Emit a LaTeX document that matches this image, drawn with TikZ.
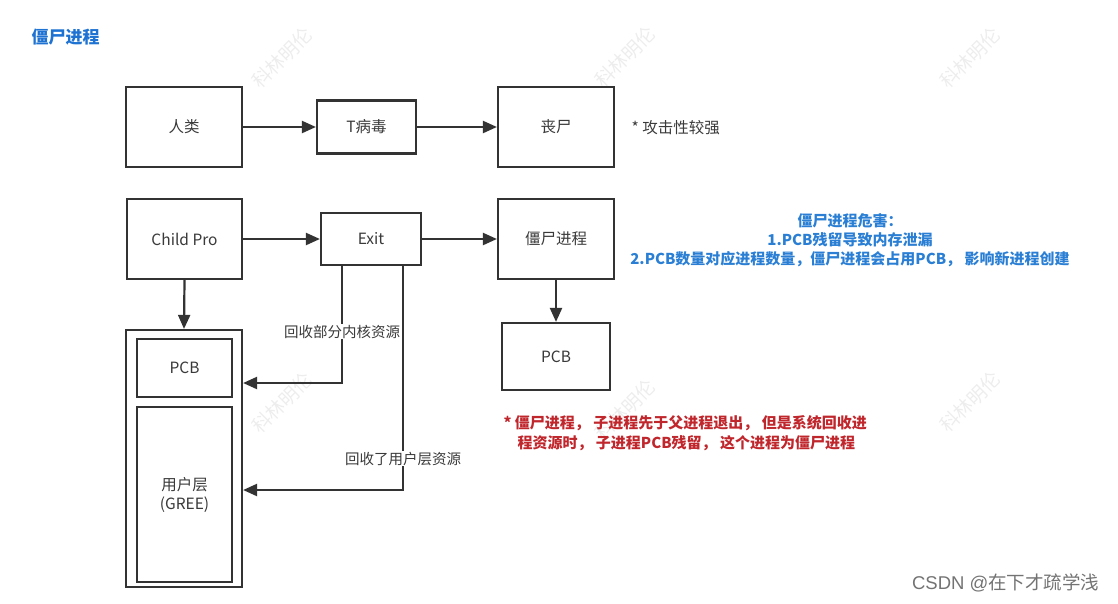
\documentclass[tikz,border=0pt]{standalone}
\usepackage{fontspec}
\setmainfont{Noto Sans CJK SC}
\newfontfamily\latinsans{Liberation Sans}
\usetikzlibrary{arrows.meta}
\definecolor{ln}{HTML}{333333}
\definecolor{tx}{HTML}{3A3A3A}
\definecolor{ttl}{HTML}{1E73D2}
\definecolor{bl}{HTML}{2A7FD4}
\definecolor{rd}{HTML}{C0272D}
\definecolor{wm}{HTML}{EDEDED}
\begin{document}
\begin{tikzpicture}[x=1pt,y=-1pt,
  box/.style={draw=ln,line width=2.2pt,fill=white,text=tx,font=\fontsize{15.5}{19}\selectfont,inner sep=0pt,align=center},
  arr/.style={draw=ln,line width=2.2pt,-{Triangle[length=14pt,width=12pt]}},
  lbl/.style={fill=white,text=tx,font=\fontsize{14.5}{17}\selectfont,inner sep=1pt},
  wmark/.style={text=wm,rotate=45,font=\fontsize{19}{22}\selectfont}]
\useasboundingbox (0,0) rectangle (1118,603);
% watermarks
\foreach \wx/\wy [count=\i] in {282/58,625/57,970/58,282/403,625/410,970/402}
  \node[wmark] (wm\i) at (\wx,\wy) {科林明伦};
% title
\node[text=ttl,font=\bfseries\fontsize{17}{20}\selectfont,anchor=west] (title) at (28,37) {僵尸进程};
% row 1
\node[box,minimum width=116pt,minimum height=80pt] (human) at (184,127) {人类};
\node[box,minimum width=99pt,minimum height=53pt] (tvirus) at (366.5,127) {T病毒};
\node[box,minimum width=116pt,minimum height=80pt] (zombie) at (556,127) {丧尸};
\node[text=tx,font=\fontsize{15.5}{18}\selectfont,anchor=west] (note1) at (628,128) {* 攻击性较强};
\draw[arr] (human) -- (tvirus);
\draw[arr] (tvirus) -- (zombie);
% row 2
\node[box,minimum width=115pt,minimum height=80pt] (child) at (184.5,239) {Child Pro};
\node[box,minimum width=100pt,minimum height=52pt] (exit) at (371,239) {Exit};
\node[box,minimum width=116pt,minimum height=80pt] (zproc) at (556,239) {僵尸进程};
\draw[arr] (child) -- (exit);
\draw[arr] (exit) -- (zproc);
% memory block
\node[box,minimum width=116pt,minimum height=257pt] (outer) at (184,458.5) {};
\node[box,minimum width=95pt,minimum height=58pt] (pcb1) at (184.5,368) {PCB};
\node[box,minimum width=95pt,minimum height=175pt] (user) at (184.5,494.5) {用户层\\(GREE)};
\draw[arr] (child.south) -- (outer.north);
% zombie pcb
\node[box,minimum width=108pt,minimum height=67pt] (pcb2) at (556,356.5) {PCB};
\draw[arr] (zproc.south) -- (pcb2.north);
% recycle connectors
\draw[arr] ([xshift=-29pt]exit.south) |- ([yshift=75.5pt]outer.east)
  node[lbl,pos=0.28] (l1) {回收部分内核资源};
\draw[arr] ([xshift=32pt]exit.south) |- ([yshift=-31.5pt]outer.east)
  node[lbl,pos=0.43] (l2) {回收了用户层资源};
% blue text
\node[text=bl,font=\bfseries\fontsize{15}{19}\selectfont,align=center] (harm) at (850,240)
  {僵尸进程危害：\\1.PCB残留导致内存泄漏\\2.PCB数量对应进程数量，僵尸进程会占用PCB， 影响新进程创建};
% red text
\node[text=rd,font=\bfseries\fontsize{15}{20}\selectfont,align=left,anchor=north west] (def) at (500,412)
  {* 僵尸进程， 子进程先于父进程退出， 但是系统回收进\\\hspace*{14pt}程资源时， 子进程PCB残留， 这个进程为僵尸进程};
% footer
\node[text=black!55,font=\fontsize{18.5}{22}\selectfont,anchor=east] (csdn) at (1103,583) {{\latinsans CSDN @}在下才疏学浅};
\end{tikzpicture}
\end{document}
